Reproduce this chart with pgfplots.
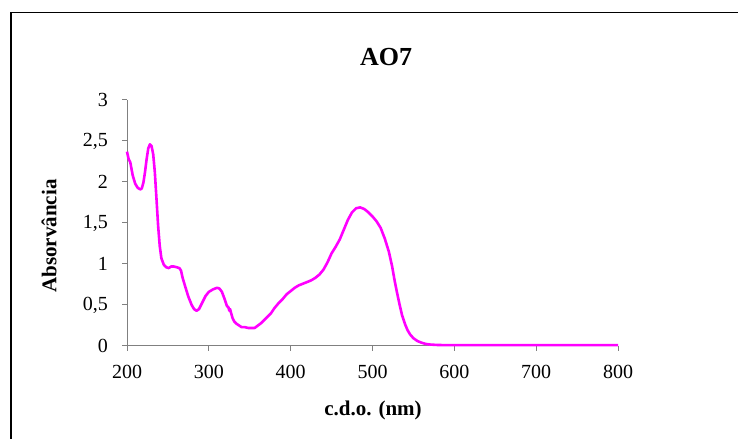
\documentclass[border=0pt]{standalone}
\usepackage{pgfplots}
\pgfplotsset{compat=1.18}
\usepackage{fontspec}
\setmainfont{Liberation Serif}

\definecolor{espectro}{HTML}{FF00FF}
\definecolor{eixo}{HTML}{808080}

% espectro UV-Vis do corante AO7
\pgfplotstableread{
nm A
200 2.37
202 2.28
204 2.24
207 2.08
210 1.98
213 1.93
216 1.91
218 1.92
220 1.99
222 2.12
224 2.28
226 2.41
228 2.46
230 2.44
232 2.34
234 2.12
236 1.80
238 1.47
240 1.22
242 1.07
245 0.99
248 0.96
251 0.95
254 0.97
257 0.97
261 0.96
264 0.95
266 0.92
268 0.83
271 0.73
275 0.60
279 0.50
282 0.45
285 0.43
288 0.45
292 0.53
296 0.61
300 0.66
305 0.69
310 0.71
313 0.70
316 0.66
319 0.58
322 0.49
324 0.47
325 0.43
326 0.45
327 0.41
329 0.34
331 0.30
334 0.27
337 0.25
340 0.23
344 0.23
348 0.22
352 0.22
356 0.22
360 0.25
364 0.28
368 0.32
372 0.36
376 0.40
380 0.46
385 0.52
390 0.57
395 0.63
400 0.67
405 0.71
410 0.74
415 0.76
420 0.78
425 0.80
430 0.83
435 0.87
440 0.93
445 1.02
450 1.13
455 1.21
460 1.30
465 1.42
470 1.54
475 1.63
480 1.68
485 1.69
490 1.67
495 1.63
500 1.58
505 1.52
510 1.44
515 1.31
520 1.15
524 0.97
527 0.80
530 0.65
533 0.51
536 0.38
540 0.26
543 0.19
546 0.14
550 0.095
555 0.06
560 0.04
565 0.025
570 0.018
580 0.012
600 0.010
700 0.010
800 0.010
}\espectro

\begin{document}
\begin{tikzpicture}
\useasboundingbox (0,0) rectangle (738bp,439bp);
% moldura da area do grafico (so topo e esquerda visiveis)
\draw[black, line width=1.3bp] (11bp,0) -- (11bp,426.5bp) -- (738bp,426.5bp);

\begin{axis}[
    at={(127bp,93bp)}, anchor=south west,
    scale only axis,
    width=491bp, height=246bp,
    xmin=200, xmax=800,
    ymin=0, ymax=3,
    xtick={200,300,...,800},
    ytick={0,0.5,...,3},
    axis x line*=bottom,
    axis y line*=left,
    axis line style={eixo, line width=1bp, -},
    tick style={eixo, line width=1bp},
    tick align=outside,
    major tick length=5bp,
    minor tick num=0,
    /pgf/number format/assume math mode=true,
    /pgf/number format/use comma,
    ticklabel style={font=\fontsize{20bp}{24bp}\selectfont, inner sep=0pt},
    yticklabel style={xshift=-14bp},
    xticklabel style={yshift=-14bp},
    clip=false,
]
\addplot[espectro, line width=2.6bp, line join=round] table[x=nm, y=A] {\espectro};
\end{axis}

\node[font=\fontsize{26bp}{30bp}\selectfont\bfseries] at (386bp,382bp) {AO7};
\node[font=\fontsize{21bp}{25bp}\selectfont\bfseries, rotate=90] at (49bp,203bp) {Absorvância};
\node[font=\fontsize{21bp}{25bp}\selectfont\bfseries] at (373bp,29bp) {c.d.o. (nm)};
\end{tikzpicture}
\end{document}
